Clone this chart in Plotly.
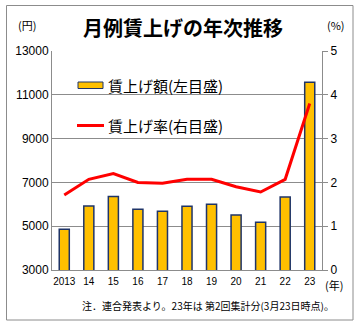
import plotly.graph_objects as go

years = ["2013", "14", "15", "16", "17", "18", "19", "20", "21", "22", "23"]
amount_yen = [4860, 5920, 6360, 5770, 5680, 5910, 6000, 5510, 5180, 6330, 11570]
rate_pct = [1.71, 2.07, 2.20, 2.00, 1.98, 2.07, 2.07, 1.90, 1.78, 2.07, 3.80]

left_ticks = [3000, 5000, 7000, 9000, 11000, 13000]
left_labels = ["3000", "5000", "7000", "9000", "11000", "13000"]
right_ticks = [0, 1, 2, 3, 4, 5]

title_text = "月例賃上げの年次推移"
legend_bar = "賃上げ額(左目盛)"
legend_line = "賃上げ率(右目盛)"
note_text = "注．連合発表より。23年は 第2回集計分(3月23日時点)。"

JP = "Noto Sans CJK JP"
NUM = "Liberation Sans, Arial, sans-serif"
GRID = "#8c8c8c"

W, H = 360, 327
L, R, T, B = 52, 38, 51, 57
pw, ph = W - L - R, H - T - B


def px_x(x):
    return (x - L) / pw


def px_y(y):
    return (H - B - y) / ph


fig = go.Figure()
fig.add_trace(go.Bar(
    x=years, y=amount_yen, name=legend_bar,
    marker=dict(color="#FFC000", line=dict(color="#1F3468", width=1.5)),
    yaxis="y", showlegend=False,
))
fig.add_trace(go.Scatter(
    x=years, y=rate_pct, name=legend_line, mode="lines",
    line=dict(color="#FF0000", width=3),
    yaxis="y2", showlegend=False,
))

fig.update_layout(
    width=W, height=H,
    margin=dict(l=L, r=R, t=T, b=B),
    paper_bgcolor="white", plot_bgcolor="white",
    bargap=0.59,
    xaxis=dict(
        type="category", showgrid=False, showline=True, linecolor=GRID,
        linewidth=1, ticks="", tickfont=dict(family=NUM, size=10, color="black"),
        ticklabelstandoff=2,
    ),
    yaxis=dict(
        range=[3000, 13000], tickvals=left_ticks, ticktext=left_labels,
        showgrid=True, gridcolor=GRID, gridwidth=1, showline=True,
        linecolor=GRID, linewidth=1, ticks="", zeroline=False,
        tickfont=dict(family=NUM, size=12, color="black"),
    ),
    yaxis2=dict(
        range=[0, 5], tickvals=right_ticks, overlaying="y", side="right",
        showgrid=False, showline=True, linecolor=GRID, linewidth=1,
        ticks="outside", ticklen=5, tickcolor=GRID, zeroline=False,
        tickfont=dict(family=NUM, size=12, color="black"),
    ),
    font=dict(family=JP),
)

# outer frame
fig.add_shape(type="rect", xref="paper", yref="paper",
              x0=px_x(6.5), x1=px_x(353), y0=px_y(320), y1=px_y(5.5),
              line=dict(color="#8c8c8c", width=1), fillcolor="rgba(0,0,0,0)",
              layer="below")

# legend (manual)
fig.add_shape(type="rect", xref="paper", yref="paper",
              x0=px_x(78), x1=px_x(103), y0=px_y(88.5), y1=px_y(82),
              line=dict(color="#1F3468", width=1), fillcolor="#FFC000")
fig.add_shape(type="line", xref="paper", yref="paper",
              x0=px_x(77), x1=px_x(104), y0=px_y(125.5), y1=px_y(125.5),
              line=dict(color="#FF0000", width=3))

annots = [
    dict(text=legend_bar, x=px_x(106), y=px_y(85), xanchor="left", yanchor="middle",
         font=dict(family=JP, size=15, color="black")),
    dict(text=legend_line, x=px_x(106), y=px_y(125), xanchor="left", yanchor="middle",
         font=dict(family=JP, size=15, color="black")),
    dict(text="<b>" + title_text + "</b>", x=px_x(183), y=px_y(27), xanchor="center",
         yanchor="middle", font=dict(family=JP, size=20, color="black")),
    dict(text="(円)", x=px_x(27), y=px_y(24.5), xanchor="center", yanchor="middle",
         font=dict(family=JP, size=11, color="black")),
    dict(text="(%)", x=px_x(336), y=px_y(24.5), xanchor="center", yanchor="middle",
         font=dict(family=JP, size=11, color="black")),
    dict(text="(年)", x=px_x(334), y=px_y(285), xanchor="center", yanchor="middle",
         font=dict(family=JP, size=11, color="black")),
    dict(text=note_text, x=px_x(80), y=px_y(305), xanchor="left", yanchor="middle",
         font=dict(family=JP, size=10, color="black")),
]
for a in annots:
    a.update(xref="paper", yref="paper", showarrow=False)
    fig.add_annotation(**a)

fig.write_html("out.html")
